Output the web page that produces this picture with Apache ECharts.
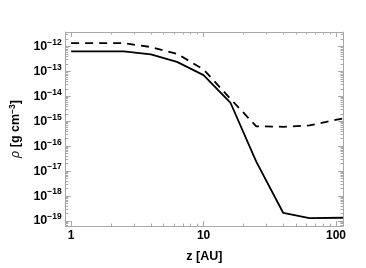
<!DOCTYPE html>
<html><head><meta charset="utf-8">
<script src="https://cdn.jsdelivr.net/npm/echarts@6/dist/echarts.min.js"></script>
<style>html,body{margin:0;padding:0;background:#fff}#c{width:366px;height:268px}</style>
</head><body><div id="c"></div>
<script>
const zAU = [1, 2.5, 4, 6.3, 10, 16, 25, 40, 63, 113];
const rhoSolid = [6.4e-13, 6.4e-13, 4.8e-13, 2.4e-13, 7.1e-14, 5.4e-15, 2.4e-17, 2.1e-19, 1.3e-19, 1.35e-19];
const rhoDashed = [1.35e-12, 1.35e-12, 9.5e-13, 5.1e-13, 1.2e-13, 7.8e-15, 6.3e-16, 6.0e-16, 6.8e-16, 1.3e-15];
const xTickLabels = ['1', '10', '100'];
const yTickExps = [-19, -18, -17, -16, -15, -14, -13, -12];

const FONT = '"Liberation Sans", Arial, sans-serif';
const frameColor = '#a8a8a8';
const chart = echarts.init(document.getElementById('c'), null, {renderer: 'canvas'});

function isDecade(v) {
  const l = Math.log10(v);
  return Math.abs(l - Math.round(l)) < 0.01;
}
function xLabel(v) {
  if (!isDecade(v)) return '';
  const s = String(Math.round(v));
  return xTickLabels.indexOf(s) >= 0 ? s : '';
}
function yLabel(v) {
  if (!isDecade(v)) return '';
  const e = Math.round(Math.log10(v));
  if (yTickExps.indexOf(e) < 0) return '';
  return '{b|10}{s|\u2212' + Math.abs(e) + '}';
}

const common = {
  type: 'log', logBase: 10,
  axisLine: {show: true, lineStyle: {color: frameColor, width: 1}},
  axisTick: {show: true, inside: true, length: 5, lineStyle: {color: frameColor, width: 1}},
  minorTick: {show: true, splitNumber: 9, length: 2.5, lineStyle: {color: frameColor, width: 1}},
  splitLine: {show: false},
  minorSplitLine: {show: false}
};
const xMin = 0.91, xMax = 113;
const yMin = 6.3e-20, yMax = 3.8e-12;

chart.setOption({
  animation: false,
  grid: {left: 53, right: 23, top: 32, bottom: 34, containLabel: false},
  xAxis: [
    Object.assign({}, common, {
      position: 'bottom', min: xMin, max: xMax,
      name: 'z [AU]', nameLocation: 'middle', nameGap: 24,
      nameTextStyle: {fontFamily: FONT, fontWeight: 'bold', fontSize: 12.5, color: '#000'},
      axisLabel: {formatter: xLabel, fontFamily: FONT, fontWeight: 'bold', fontSize: 12, color: '#000', margin: 4, showMinLabel: false, showMaxLabel: false}
    }),
    Object.assign({}, common, {
      position: 'top', min: xMin, max: xMax, axisLabel: {show: false}
    })
  ],
  yAxis: [
    Object.assign({}, common, {
      position: 'left', min: yMin, max: yMax,
      name: '{i|\u03c1} [g cm{s|\u22123}]', nameLocation: 'middle', nameGap: 38, nameRotate: 90,
      nameTextStyle: {fontFamily: FONT, fontWeight: 'bold', fontSize: 12.5, color: '#000',
        rich: {
          i: {fontFamily: FONT, fontStyle: 'italic', fontWeight: 'normal', fontSize: 12.5, color: '#000'},
          s: {fontFamily: FONT, fontWeight: 'bold', fontSize: 8.5, color: '#000', padding: [0, 0, 7, 0]}
        }},
      axisLabel: {formatter: yLabel, margin: 4, showMinLabel: false, showMaxLabel: false,
        rich: {
          b: {fontFamily: FONT, fontWeight: 'bold', fontSize: 12.5, color: '#000'},
          s: {fontFamily: FONT, fontWeight: 'bold', fontSize: 8.5, color: '#000', padding: [0, 0, 8, 0]}
        }}
    }),
    Object.assign({}, common, {
      position: 'right', min: yMin, max: yMax, axisLabel: {show: false}
    })
  ],
  series: [
    {type: 'line', data: zAU.map((z, i) => [z, rhoDashed[i]]), showSymbol: false, symbol: 'none',
     lineStyle: {color: '#000', width: 1.8, type: [8, 6]}, clip: true},
    {type: 'line', data: zAU.map((z, i) => [z, rhoSolid[i]]), showSymbol: false, symbol: 'none',
     lineStyle: {color: '#000', width: 1.8, type: 'solid'}, clip: true}
  ]
});
</script></body></html>
